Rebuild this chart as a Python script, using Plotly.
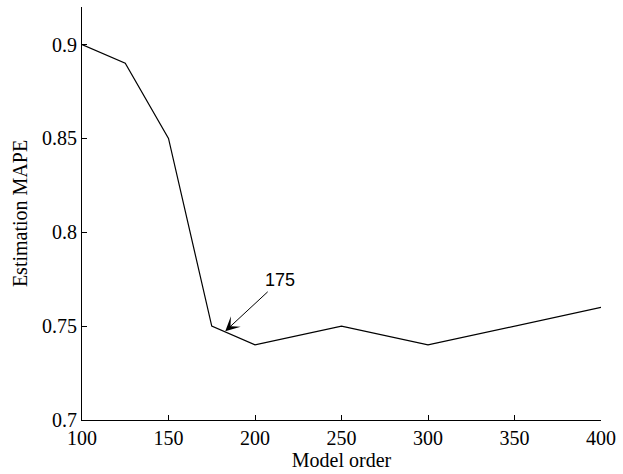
import plotly.graph_objects as go

model_order = [100, 125, 150, 175, 200, 250, 300, 400]
mape = [0.90, 0.89, 0.85, 0.75, 0.74, 0.75, 0.74, 0.76]
x_ticks = [100, 150, 200, 250, 300, 350, 400]
y_ticks = [0.7, 0.75, 0.8, 0.85, 0.9]
y_tick_text = ["0.7", "0.75", "0.8", "0.85", "0.9"]

serif = "Liberation Serif, Times New Roman, serif"

fig = go.Figure()
fig.add_trace(go.Scatter(x=model_order, y=mape, mode="lines",
                         line=dict(color="black", width=1.2), showlegend=False))

fig.add_annotation(x=182.8, y=0.7473, xref="x", yref="y",
                   ax=214.5, ay=0.7744, axref="x", ayref="y",
                   text="175", showarrow=True, arrowhead=3, arrowsize=2.4,
                   arrowwidth=1, arrowcolor="black",
                   font=dict(family="Liberation Sans, Arial, sans-serif", size=18, color="black"))

fig.update_layout(
    width=623, height=474,
    margin=dict(l=82, r=17, t=7, b=54),
    paper_bgcolor="white", plot_bgcolor="white",
    font=dict(family=serif, size=20, color="black"),
    xaxis=dict(range=[100, 400], tickvals=x_ticks, ticks="inside", ticklen=5,
               tickwidth=1, tickcolor="black", showline=True, linecolor="black",
               linewidth=1.2, showgrid=False, zeroline=False,
               title=dict(text="Model order", standoff=3,
                          font=dict(family=serif, size=20))),
    yaxis=dict(range=[0.7, 0.92], tickvals=y_ticks, ticktext=y_tick_text,
               ticks="inside", ticklen=5, tickwidth=1, tickcolor="black",
               showline=True, linecolor="black", linewidth=1.2, showgrid=False,
               zeroline=False,
               title=dict(text="Estimation MAPE", standoff=8,
                          font=dict(family=serif, size=20))),
)

fig.write_html("out.html")
